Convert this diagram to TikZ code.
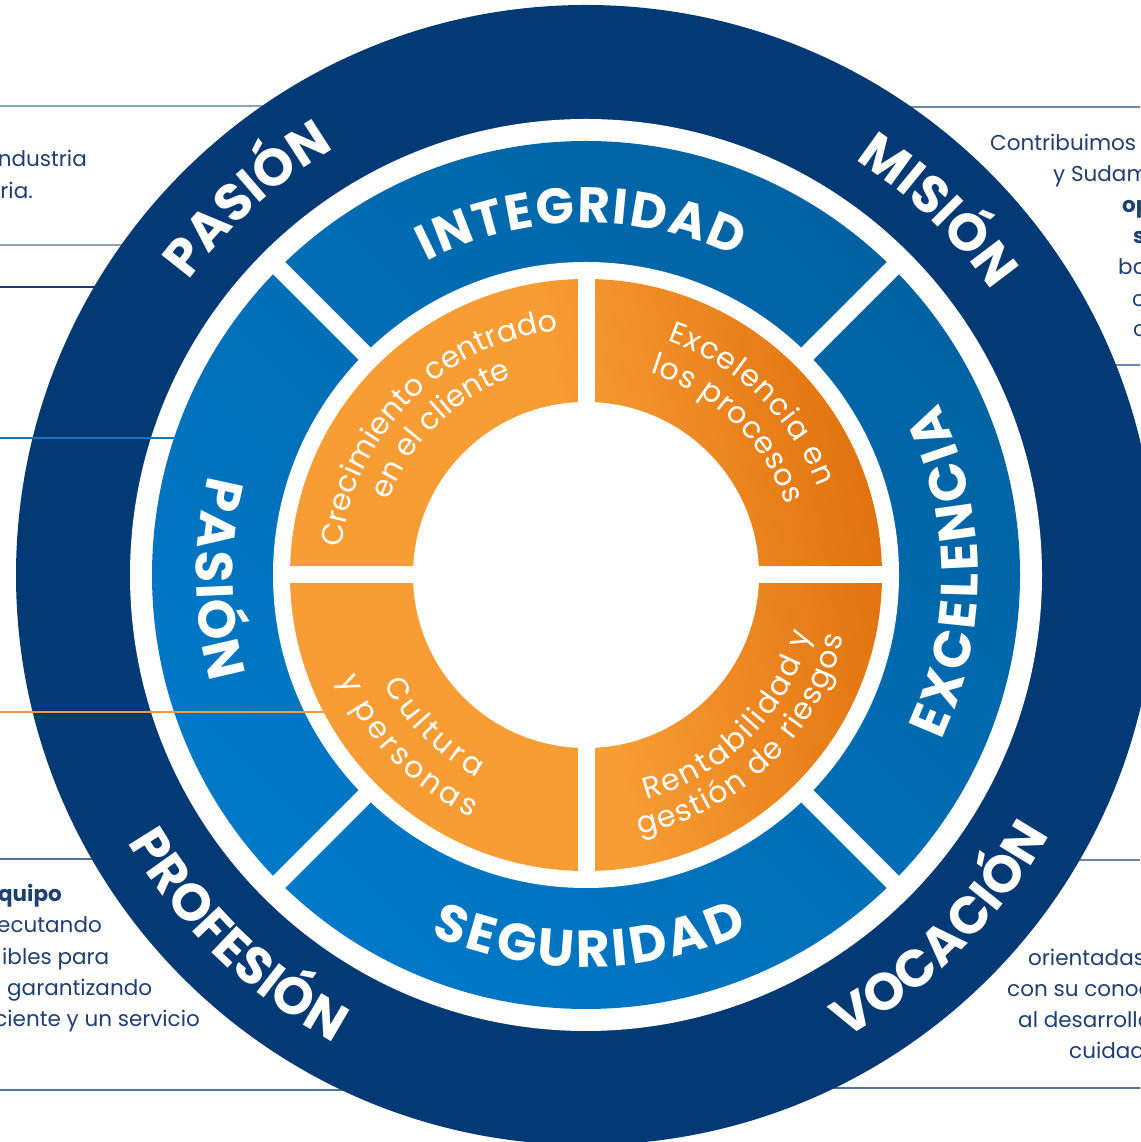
\documentclass[tikz,border=0pt]{standalone}
\usepackage{fontspec}
\setmainfont{Poppins}
\usetikzlibrary{decorations.text}
\definecolor{navy}{HTML}{033A76}
\definecolor{blueL}{HTML}{0079C9}
\definecolor{blueD}{HTML}{0062A2}
\definecolor{orL}{HTML}{F89C34}
\definecolor{orR}{HTML}{E1730E}
\definecolor{txt}{HTML}{1E3F73}
\definecolor{slateL}{HTML}{8CA2C2}
\definecolor{slateM}{HTML}{6A87AE}
\definecolor{slateD}{HTML}{5074A0}
\definecolor{lineBlue}{HTML}{1A72C0}
\definecolor{lineOr}{HTML}{F39A32}
\definecolor{lineNavy}{HTML}{0C3D7A}
\pgfdeclarehorizontalshading{blueshade}{100bp}{color(0bp)=(blueL); color(25bp)=(blueL); color(75bp)=(blueD); color(100bp)=(blueD)}
\pgfdeclarehorizontalshading{orshade}{100bp}{color(0bp)=(orL); color(25bp)=(orL); color(50bp)=(orL); color(75bp)=(orR); color(100bp)=(orR)}
\newcommand{\lblNavy}{\fontsize{52}{52}\selectfont\bfseries\color{white}}
\newcommand{\lblBlue}{\fontsize{50}{50}\selectfont\bfseries\color{white}}
\newcommand{\lblBlueB}{\fontsize{52}{52}\selectfont\bfseries\color{white}}
\newcommand{\lblOr}{\fontsize{30}{30}\selectfont\color{white}}
\begin{document}
\begin{tikzpicture}[x=1pt,y=1pt,
  para/.style={inner sep=0pt, font=\fontsize{21.5}{26}\selectfont, text=txt},
  parab/.style={para, font=\fontsize{21.5}{26}\selectfont\bfseries},
  rule/.style={line width=2.5pt},
  thinrule/.style={line width=2pt},
  gap/.style={white, line width=17pt},
  curved/.style={decorate, decoration={text along path, text={#1}, text align=center}},
  fitted/.style={decorate, decoration={text along path, text={#1}, text align={fit to path}}}
]
\useasboundingbox (0,0) rectangle (1140,1142);
\fill[white] (0,0) rectangle (1140,1142);
\coordinate (C) at (586,567);

% horizontal rules behind the circle
\coordinate (a1) at (0,1036); \coordinate (a2) at (586,1036);
\coordinate (b1) at (0,897);  \coordinate (b2) at (586,897);
\coordinate (c1) at (0,855);  \coordinate (c2) at (586,855);
\coordinate (d1) at (0,283);  \coordinate (d2) at (586,283);
\coordinate (e1) at (0,52);   \coordinate (e2) at (586,52);
\coordinate (f1) at (586,1035); \coordinate (f2) at (1140,1035);
\coordinate (g1) at (586,777);  \coordinate (g2) at (1140,777);
\coordinate (h1) at (586,282);  \coordinate (h2) at (1140,282);
\coordinate (i1) at (586,54);   \coordinate (i2) at (1140,54);
\draw[rule, slateL] (a1) -- (a2);
\draw[rule, slateL] (b1) -- (b2);
\draw[thinrule, lineNavy] (c1) -- (c2);
\draw[rule, slateD] (d1) -- (d2);
\draw[rule, slateD] (e1) -- (e2);
\draw[rule, slateM] (f1) -- (f2);
\draw[rule, slateM] (g1) -- (g2);
\draw[rule, slateM] (h1) -- (h2);
\draw[rule, slateD] (i1) -- (i2);

% rings
\fill[navy] (C) circle[radius=570];
\fill[white] (C) circle[radius=456];
\coordinate (j1) at (0,704); \coordinate (j2) at (300,704);
\draw[thinrule, lineBlue] (j1) -- (j2);
\shade[shading=blueshade, shading angle=45] (C) circle[radius=434];
\begin{scope}[shift={(586,567)}]
  \draw[gap] (45:445) -- (225:445);
  \draw[gap] (135:445) -- (315:445);
\end{scope}
\fill[white] (C) circle[radius=313];
\coordinate (k1) at (0,430); \coordinate (k2) at (400,430);
\draw[thinrule, lineOr] (k1) -- (k2);
\shade[shading=orshade, shading angle=10] (C) circle[radius=296];
\begin{scope}[shift={(586,567)}]
  \draw[gap] (-300,0) -- (300,0);
  \draw[gap] (0,-300) -- (0,300);
\end{scope}
\fill[white] (C) circle[radius=173];

% curved labels
\begin{scope}[shift={(586,567)}]
  % navy ring
  \path[curved={|\lblNavy|PASIÓN}] (172:495) arc[start angle=172, end angle=92, radius=495];
  \path[curved={|\lblNavy|MISIÓN}] (86:495) arc[start angle=86, end angle=6, radius=495];
  \path[curved={|\lblNavy|PROFESIÓN}] (176:531) arc[start angle=176, end angle=276, radius=531];
  \path[curved={|\lblNavy|VOCACIÓN}] (265:531) arc[start angle=265, end angle=365, radius=531];
  % blue ring
  \path[fitted={|\lblBlue|INTEGRIDAD}] (117:352) arc[start angle=117, end angle=64.6, radius=352];
  \path[fitted={|\lblBlueB|SEGURIDAD}] (246.7:392) arc[start angle=246.7, end angle=294.4, radius=392];
  \path[fitted={|\lblBlueB|PASIÓN}] (165.3:390) arc[start angle=165.3, end angle=196, radius=390];
  \path[fitted={|\lblBlueB|EXCELENCIA}] (-24.9:392) arc[start angle=-24.9, end angle=26, radius=392];
  % orange ring
  \path[curved={|\lblOr|Crecimiento centrado}] (220:246) arc[start angle=220, end angle=50, radius=246];
  \path[curved={|\lblOr|en el cliente}] (220:211) arc[start angle=220, end angle=50, radius=211];
  \path[fitted={|\lblOr|Excelencia en}] (70.8:248) arc[start angle=70.8, end angle=20.8, radius=248];
  \path[fitted={|\lblOr|los procesos}] (72.4:212) arc[start angle=72.4, end angle=19.4, radius=212];
  \path[fitted={|\lblOr|Cultura}] (208.4:230) arc[start angle=208.4, end angle=241.7, radius=230];
  \path[fitted={|\lblOr|y personas}] (202.9:268) arc[start angle=202.9, end angle=244.6, radius=268];
  \path[fitted={|\lblOr|Rentabilidad y}] (285:232) arc[start angle=285, end angle=345.4, radius=232];
  \path[fitted={|\lblOr|gestión de riesgos}] (281.6:265) arc[start angle=281.6, end angle=346.6, radius=265];
\end{scope}

% side paragraphs (cut by the page edge)
\node[para, anchor=base east] (t1) at (87,975) {ndustria};
\node[para, anchor=base east] (t2) at (33,943) {ria.};
\node[para, anchor=base west] (r1) at (990,991) {Contribuimos};
\node[para, anchor=base west] (r2) at (1053,960) {y Sudam};
\node[parab, anchor=base west] (r3) at (1122,929) {op};
\node[parab, anchor=base west] (r4) at (1133,898) {s};
\node[para, anchor=base west] (r5) at (1118,867) {ba};
\node[para, anchor=base west] (r6) at (1132,835) {c};
\node[para, anchor=base west] (r7) at (1133,805) {c};
\node[parab, anchor=base east] (q1) at (62,240) {quipo};
\node[para, anchor=base east] (q2) at (102,209) {ecutando};
\node[para, anchor=base west] (q3) at (2,177) {ibles para};
\node[para, anchor=base west] (q4) at (7,146) {garantizando};
\node[para, anchor=base east] (q5) at (200,115) {ciente y un servicio};
\node[para, anchor=base west] (s1) at (1028,176) {orientadas};
\node[para, anchor=base west] (s2) at (1007,145) {con su conoc};
\node[para, anchor=base west] (s3) at (1018,114) {al desarrollo};
\node[para, anchor=base west] (s4) at (1069,83) {cuidad};
\end{tikzpicture}
\end{document}
